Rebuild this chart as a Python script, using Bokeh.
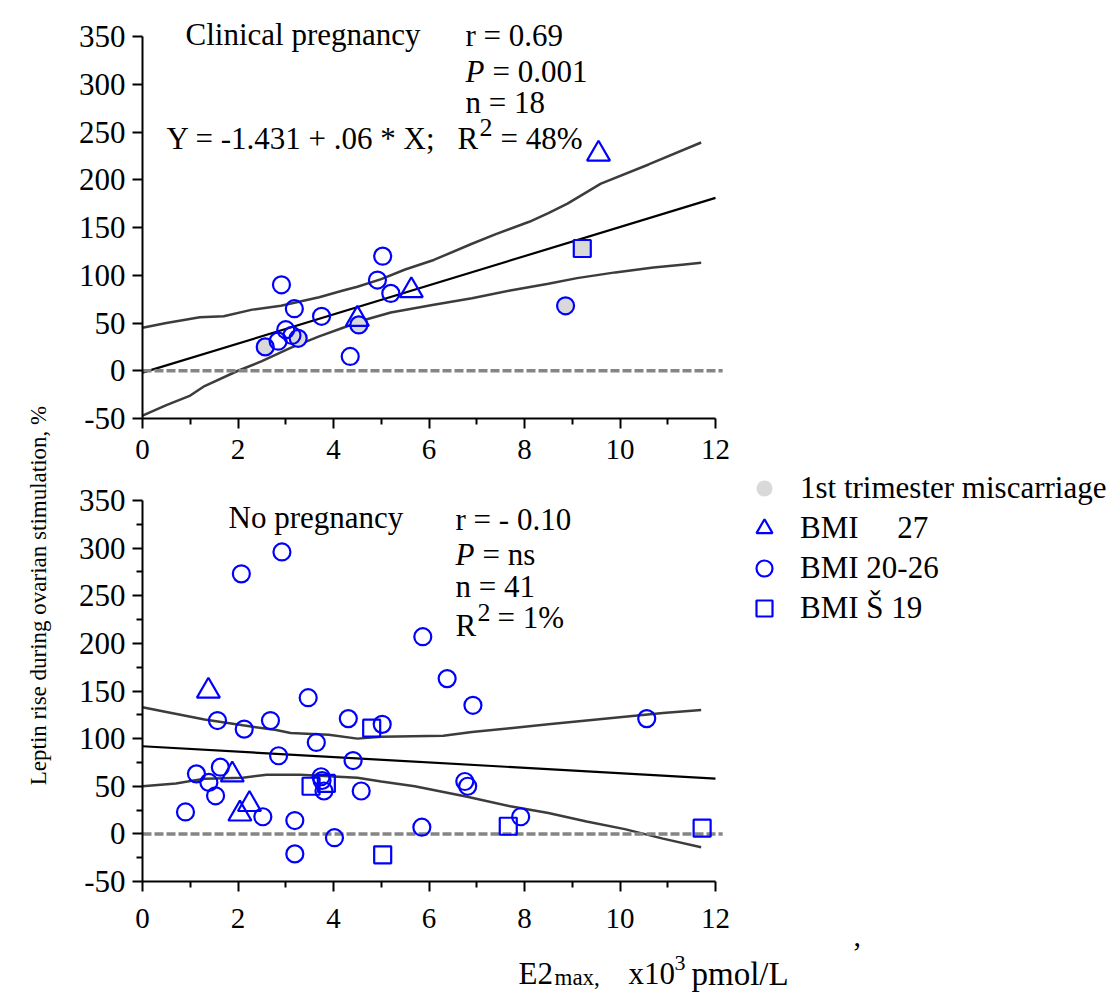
from math import pi
from bokeh.plotting import figure
from bokeh.models import FixedTicker, Label, Legend, LegendItem
from bokeh.layouts import row, column
from bokeh.embed import file_html
from bokeh.resources import INLINE

# ---------------- DATA ----------------
x_ticks = [0, 2, 4, 6, 8, 10, 12]
x_minor = [1, 3, 5, 7, 9, 11]
y_ticks = [-50, 0, 50, 100, 150, 200, 250, 300, 350]
y_minor_bottom = [-25, 25, 75, 125, 175, 225, 275, 325]

# Top panel: clinical pregnancy (n = 18)
cp_x = [2.57, 2.84, 2.91, 3.00, 3.18, 3.13, 3.26, 3.75, 4.35, 4.53, 4.92, 5.03, 5.20, 8.86,
        4.50, 5.63, 9.55,
        9.21]
cp_y = [25, 31, 90, 43, 65, 37, 34, 57, 15, 48, 95, 120, 81, 68,
        54, 84, 227,
        128]
cp_group = ["20-26"] * 14 + [">=27"] * 3 + ["<=19"]
cp_miscarriage = [1, 0, 0, 0, 0, 0, 1, 0, 0, 1, 0, 0, 0, 1,
                  0, 0, 0,
                  1]
cp_fit_x = [0, 12]
cp_fit_y = [-2, 181]
cp_upper_x = [0, 0.5, 1.2, 1.7, 2.3, 2.9, 3.7, 4.2, 4.5, 5.0, 5.5, 6.1, 6.9, 7.4, 8.1, 8.5, 8.9, 9.6, 10.6, 11.7]
cp_upper_y = [45, 50, 56, 57, 64, 68, 77, 84, 88, 96, 106, 116, 133, 143, 156, 165, 175, 196, 216, 239]
cp_lower_x = [0, 0.5, 1.0, 1.3, 2.0, 2.5, 3.1, 3.7, 4.2, 4.7, 5.2, 6.1, 6.9, 7.7, 8.5, 9.1, 9.9, 10.7, 11.3, 11.7]
cp_lower_y = [-47, -36, -26, -16, 0, 10, 24, 36, 45, 54, 61, 69, 76, 84, 91, 97, 103, 108, 111, 113]

# Bottom panel: no pregnancy (n = 41)
np_x = [1.38, 1.88, 2.24, 2.04,
        4.80, 3.53, 3.85, 7.66, 11.72, 5.03,
        1.57, 2.13, 2.68, 3.47, 4.31, 5.02, 6.38, 6.92, 10.56, 3.64, 2.85, 4.41, 1.63, 1.13,
        1.39, 3.74, 3.76, 3.80, 4.58, 1.53, 0.90, 2.52, 3.19, 6.75, 6.81, 7.92, 5.85, 4.02,
        3.19, 2.07, 2.92, 5.87]
np_y = [150, 62, 31, 21,
        111, 50, 53, 8, 6, -22,
        119, 110, 119, 143, 121, 115, 163, 135, 121, 96, 82, 77, 70, 63,
        54, 60, 56, 45, 45, 40, 23, 18, 14, 55, 50, 18, 7, -4,
        -21, 273, 296, 207]
np_group = [">=27"] * 4 + ["<=19"] * 6 + ["20-26"] * 32
np_fit_x = [0, 12]
np_fit_y = [92, 58]
np_upper_x = [0, 0.5, 1.3, 2.1, 2.8, 3.1, 3.9, 4.5, 5.0, 6.3, 6.9, 7.7, 8.5, 9.3, 10.1, 10.9, 11.7]
np_upper_y = [133, 128, 120, 114, 109, 106, 104, 100, 102, 103, 107, 111, 115, 119, 123, 127, 130]
np_lower_x = [0, 0.7, 1.3, 2.1, 2.6, 3.3, 4.5, 5.0, 5.7, 6.8, 7.7, 8.5, 9.3, 10.1, 10.9, 11.7]
np_lower_y = [50, 53, 58, 59, 62, 62, 59, 55, 50, 39, 29, 22, 13, 5, -5, -14]

zero_x = [0, 12.15]
zero_y = [0, 0]

legend_labels = ["1st trimester miscarriage", "BMI\u00a0\u00a0\u00a0\u00a0 27", "BMI 20-26", "BMI \u0160 19"]

# ---------------- STYLE ----------------
FONT = "Liberation Serif"
BLUE = "#0000ff"
GREY_FILL = "#d9d9d9"
BAND = "#3c3c3c"
MSIZE = {"20-26": 17, ">=27": 23, "<=19": 17}
MARK = {"20-26": "circle", ">=27": "triangle", "<=19": "square"}

# ---------------- LAYOUT (absolute page pixels) ----------------
YLAB_W = 68
FIG_W = 1044
X0_PX = 142                    # page x of data x = 0
PX_PER_X = 47.75               # px per x unit
X_START = (YLAB_W - X0_PX) / PX_PER_X
X_END = (YLAB_W + FIG_W - X0_PX) / PX_PER_X
TOP_PX_PER_Y = 382 / 400       # top panel: -50 at 418, 350 at 36
BOT_PX_PER_Y = 381 / 400       # bottom panel: -50 at 881, 350 at 500
TOP_H = 470                    # page y 0..470
BOT_H = 524                    # page y 470..994


def style_axes(p, y_minor, standoff):
    for ax in (p.xaxis[0], p.yaxis[0]):
        ax.axis_line_width = 2
        ax.axis_line_color = "black"
        ax.major_tick_line_width = 2
        ax.minor_tick_line_width = 2
        ax.major_tick_out = 10
        ax.major_tick_in = 0
        ax.minor_tick_out = 6
        ax.minor_tick_in = 0
        ax.major_label_text_font = FONT
        ax.major_label_text_color = "black"
    p.xaxis[0].ticker = FixedTicker(ticks=x_ticks, minor_ticks=x_minor)
    p.yaxis[0].ticker = FixedTicker(ticks=y_ticks, minor_ticks=y_minor)
    p.yaxis[0].major_label_overrides = {-50: "-50"}
    p.xaxis[0].bounds = (0, 12)
    p.yaxis[0].bounds = (-50, 350)
    p.xaxis[0].fixed_location = -50
    p.yaxis[0].fixed_location = 0
    p.xaxis[0].major_label_text_font_size = "29px"
    p.yaxis[0].major_label_text_font_size = "31px"
    p.xaxis[0].major_label_standoff = standoff
    p.yaxis[0].major_label_standoff = 7
    p.grid.visible = False
    p.outline_line_color = None


def draw_panel(p, xs, ys, groups, fit_x, fit_y, up_x, up_y, lo_x, lo_y, misc=None):
    p.line(up_x, up_y, line_color=BAND, line_width=2.5)
    p.line(lo_x, lo_y, line_color=BAND, line_width=2.5)
    p.line(fit_x, fit_y, line_color="black", line_width=2.2)
    p.line(zero_x, zero_y, line_color="#858585", line_width=3.5, line_dash="9 3")
    rends = {}
    if misc is not None:
        for g in MARK:
            mx = [x for x, gg, m in zip(xs, groups, misc) if gg == g and m]
            my = [y for y, gg, m in zip(ys, groups, misc) if gg == g and m]
            if mx:
                p.scatter(mx, my, marker=MARK[g], size=MSIZE[g], fill_color=GREY_FILL, line_color=None)
    for g in MARK:
        gx = [x for x, gg in zip(xs, groups) if gg == g]
        gy = [y for y, gg in zip(ys, groups) if gg == g]
        rends[g] = p.scatter(gx, gy, marker=MARK[g], size=MSIZE[g], fill_color=None,
                             line_color=BLUE, line_width=2.2)
    return rends


def top_xy(sx, sy):
    return (sx - X0_PX) / PX_PER_X, (418 - sy) / TOP_PX_PER_Y - 50


def bot_xy(sx, sy):
    return (sx - X0_PX) / PX_PER_X, (881 - sy) / BOT_PX_PER_Y - 50


def add_text(p, conv, sx, sy, text, size="31px", style="normal"):
    x, y = conv(sx, sy)
    p.add_layout(Label(x=x, y=y, text=text, text_font=FONT, text_font_size=size,
                       text_font_style=style, text_color="black",
                       text_baseline="alphabetic", text_align="left"))


def make_fig(height, y_start, y_end):
    return figure(width=FIG_W, height=height, x_range=(X_START, X_END),
                  y_range=(y_start, y_end),
                  output_backend="svg", toolbar_location=None,
                  min_border_left=0, min_border_right=0,
                  min_border_top=0, min_border_bottom=0)


# ---- top figure (frame covers page 68..1112 x 0..470; axes fixed at x=0, y=-50) ----
top = make_fig(TOP_H, -50 - (TOP_H - 418) / TOP_PX_PER_Y, 350 + 36 / TOP_PX_PER_Y)
style_axes(top, [], 11)
draw_panel(top, cp_x, cp_y, cp_group, cp_fit_x, cp_fit_y,
           cp_upper_x, cp_upper_y, cp_lower_x, cp_lower_y, misc=cp_miscarriage)

add_text(top, top_xy, 185, 34, "Clinical pregnancy")
add_text(top, top_xy, 465, 35, "r = 0.69")
add_text(top, top_xy, 465, 71, "P", style="italic")
add_text(top, top_xy, 492, 71, "= 0.001")
add_text(top, top_xy, 465, 102, "n = 18")
add_text(top, top_xy, 166, 138, "Y = -1.431 + .06 * X;")
add_text(top, top_xy, 457, 138, "R")
add_text(top, top_xy, 479, 127, "2", size="26px")
add_text(top, top_xy, 500, 138, "= 48%")

# ---- bottom figure (frame covers page 68..1112 x 470..994) ----
bot = make_fig(BOT_H, -50 - (TOP_H + BOT_H - 881) / BOT_PX_PER_Y,
               350 + (500 - TOP_H) / BOT_PX_PER_Y)
style_axes(bot, y_minor_bottom, 17)
rb = draw_panel(bot, np_x, np_y, np_group, np_fit_x, np_fit_y,
                np_upper_x, np_upper_y, np_lower_x, np_lower_y)
misc_r = bot.scatter(x=[float("nan")], y=[float("nan")], marker="circle", size=20,
                     fill_color=GREY_FILL, line_color=None)

add_text(bot, bot_xy, 228, 517, "No pregnancy")
add_text(bot, bot_xy, 455, 519, "r = - 0.10")
add_text(bot, bot_xy, 455, 554, "P", style="italic")
add_text(bot, bot_xy, 482, 554, "= ns")
add_text(bot, bot_xy, 455, 586, "n = 41")
add_text(bot, bot_xy, 455, 625, "R")
add_text(bot, bot_xy, 477, 612, "2", size="26px")
add_text(bot, bot_xy, 497, 617, "= 1%")

# x axis title (below bottom axis)
add_text(bot, bot_xy, 518, 973, "E2", size="31px")
add_text(bot, bot_xy, 554, 977, "max,", size="23px")
add_text(bot, bot_xy, 628, 973, "x10", size="31px")
add_text(bot, bot_xy, 674, 962, "3", size="22px")
add_text(bot, bot_xy, 691, 973, "pmol/L", size="33px")
add_text(bot, bot_xy, 853, 936, ",", size="30px")

legend = Legend(items=[
    LegendItem(label=legend_labels[0], renderers=[misc_r]),
    LegendItem(label=legend_labels[1], renderers=[rb[">=27"]]),
    LegendItem(label=legend_labels[2], renderers=[rb["20-26"]]),
    LegendItem(label=legend_labels[3], renderers=[rb["<=19"]]),
], location=(744 - YLAB_W, TOP_H + BOT_H - 628), orientation="vertical",
    glyph_width=40, glyph_height=40, label_height=40, spacing=0,
    padding=0, margin=0, label_standoff=16,
    label_text_font=FONT, label_text_font_size="31px", label_text_color="black",
    border_line_color=None, background_fill_alpha=0)
bot.add_layout(legend)

# ---- y-axis title figure ----
ylab = figure(width=YLAB_W, height=TOP_H + BOT_H, x_range=(0, 1), y_range=(0, 1),
              output_backend="svg", toolbar_location=None,
              x_axis_location=None, y_axis_location=None,
              min_border=0, outline_line_color=None)
ylab.grid.visible = False
ylab.add_layout(Label(x=38 / YLAB_W, y=1 - 595 / (TOP_H + BOT_H),
                      text="Leptin rise during ovarian stimulation, %",
                      text_font=FONT, text_font_size="23px", angle=pi / 2,
                      text_align="center", text_baseline="alphabetic", text_color="black"))

layout = row(ylab, column(top, bot))
open("out.html", "w").write(file_html(layout, INLINE))
